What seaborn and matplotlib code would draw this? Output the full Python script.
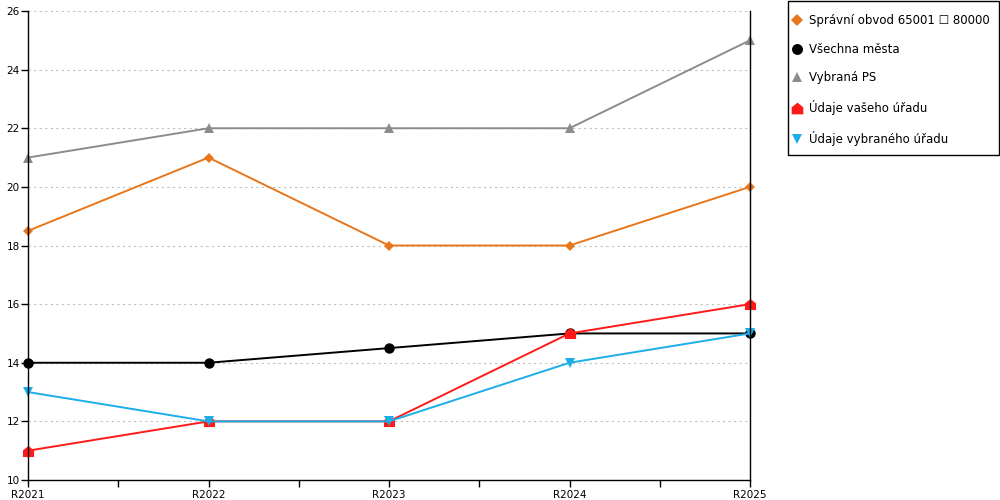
import pandas as pd
import numpy as np
import matplotlib
matplotlib.use("Agg")
import matplotlib.pyplot as plt
from matplotlib.lines import Line2D
from matplotlib.patches import Rectangle
from matplotlib.path import Path
import seaborn as sns

years = ["R2021", "R2022", "R2023", "R2024", "R2025"]
spravni = [18.5, 21, 18, 18, 20]
vsechna = [14, 14, 14.5, 15, 15]
vybrana_ps = [21, 22, 22, 22, 25]
vas_urad = [11, 12, 12, 15, 16]
vybrany_urad = [13, 12, 12, 14, 15]

labels = ["Správní obvod 65001 \u2610 80000", "Všechna města", "Vybraná PS",
          "Údaje vašeho úřadu", "Údaje vybraného úřadu"]

# house-shaped marker
house = Path([(-1, -1), (1, -1), (1, 0.2), (0, 1), (-1, 0.2), (-1, -1)],
             [Path.MOVETO, Path.LINETO, Path.LINETO, Path.LINETO, Path.LINETO, Path.CLOSEPOLY])

series = [
    (vybrana_ps, "#8C8C8C", "^", 7.5),
    (spravni, "#E8761A", "D", 5.5),
    (vsechna, "#000000", "o", 7.5),
    (vas_urad, "#FF1A1A", house, 8),
    (vybrany_urad, "#1BAEE8", "v", 7.5),
]
legend_order = [1, 2, 0, 3, 4]

sns.set_style("white")
plt.rcParams["font.family"] = ["DejaVu Sans"]
plt.rcParams["text.color"] = "black"

fig = plt.figure(figsize=(10, 5), dpi=100)
ax = fig.add_axes([0.028, 0.04, 0.722, 0.938])

for vals, col, mk, ms in series:
    df = pd.DataFrame({"year": years, "value": vals})
    sns.lineplot(data=df, x="year", y="value", color=col, marker=mk,
                 markersize=ms, markeredgewidth=0, linewidth=1.4, ax=ax,
                 clip_on=False)

ax.set_xlim(0, 4)
ax.set_ylim(10, 26)
ax.set_yticks(range(10, 27, 2))
ax.set_xticks(range(5))
ax.set_xticklabels(years)
ax.set_xticks(np.arange(0.5, 4, 1), minor=True)
ax.set_xlabel("")
ax.set_ylabel("")
ax.yaxis.grid(True, linestyle=(0, (2, 3)), color="#C0C0C0", linewidth=0.8)
ax.xaxis.grid(False)
ax.set_axisbelow(True)
for s in ["left", "bottom", "right"]:
    ax.spines[s].set_color("black")
    ax.spines[s].set_linewidth(1)
ax.spines["top"].set_visible(False)
ax.tick_params(axis="both", which="both", direction="out", length=5, width=1,
               colors="black", labelsize=7.5, pad=1, bottom=True, left=True)
ax.tick_params(axis="x", pad=2)

# legend box drawn separately so the padding can differ per side
fig.patches.append(Rectangle((0.788, 0.69), 0.211, 0.309, transform=fig.transFigure,
                             fill=False, edgecolor="black", linewidth=1))
handles = []
for i in legend_order:
    vals, col, mk, ms = series[i]
    handles.append(Line2D([], [], linestyle="none", marker=mk, color=col,
                          markersize=ms * 1.05, markeredgewidth=0))
leg = fig.legend(handles, labels, loc="upper left", bbox_to_anchor=(0.7923, 0.972),
                 frameon=False, fontsize=8.5, labelspacing=1.33,
                 handlelength=0.8, handletextpad=0.6, borderpad=0,
                 borderaxespad=0, labelcolor="black")

fig.savefig("out.png", dpi=100)
